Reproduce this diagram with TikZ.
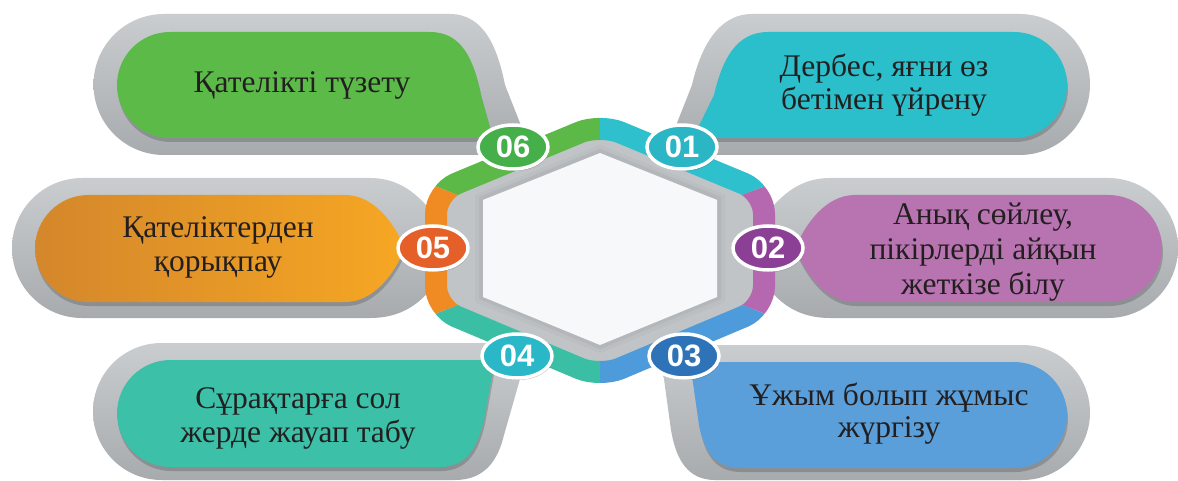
\documentclass[tikz,border=0pt]{standalone}
\usepackage{fontspec}
\setmainfont{Liberation Serif}
\newfontfamily\badgefont{Liberation Sans}
\usetikzlibrary{shapes.geometric,shadows}
\definecolor{ctext}{HTML}{231F20}
\definecolor{graytop}{HTML}{CACDCF}
\definecolor{graybot}{HTML}{A7ABAE}
\definecolor{ringgray}{HTML}{C0C4C6}
\definecolor{hexsh1}{HTML}{BBBFC2}
\definecolor{hexsh2}{HTML}{B3B7BA}
\definecolor{hexwhite}{HTML}{F6F8F9}
\definecolor{boxgreen}{HTML}{5CBB48}
\definecolor{boxcyan}{HTML}{2ABFCA}
\definecolor{boxpurple}{HTML}{B873B1}
\definecolor{boxblue}{HTML}{5A9FDA}
\definecolor{boxteal}{HTML}{3CC0A8}
\definecolor{boxorangeL}{HTML}{D4872B}
\definecolor{boxorangeM}{HTML}{F2A224}
\definecolor{boxorangeR}{HTML}{F6A723}
\definecolor{rgreen}{HTML}{5DB947}
\definecolor{rcyan}{HTML}{2EC0CD}
\definecolor{rpurple}{HTML}{B568B0}
\definecolor{rblue}{HTML}{4E9BDB}
\definecolor{rteal}{HTML}{3BBFA4}
\definecolor{rorange}{HTML}{F08B23}
\definecolor{bgreen}{HTML}{45AF4A}
\definecolor{bcyan}{HTML}{2BB6C6}
\definecolor{bpurple}{HTML}{8B3F95}
\definecolor{bblue}{HTML}{2E73B8}
\definecolor{bcyan2}{HTML}{2AB7C8}
\definecolor{borange}{HTML}{E55F28}
\def\pGout{(520,155) -- (164,155) arc[start angle=270,end angle=90,radius=70.5pt] -- (450,14) .. controls (485,14) and (498,50) .. (505,85) -- (522,128) -- cycle}
\def\pGin{(493,138) -- (170,138) arc[start angle=270,end angle=90,radius=53pt] -- (430,32) .. controls (462,32) and (474,60) .. (481,95) -- cycle}
\def\pCout{(680,155) -- (1019.5,155) arc[start angle=-90,end angle=90,radius=70.5pt] -- (752,14) .. controls (717,14) and (700,50) .. (692,85) -- (675,128) -- cycle}
\def\pCin{(693,138) -- (1014,138) arc[start angle=-90,end angle=90,radius=53pt] -- (768,32) .. controls (736,32) and (722,60) .. (714,95) -- cycle}
\def\pOout{(370,318) -- (82,318) arc[start angle=270,end angle=90,radius=70pt] -- (370,178) .. controls (400,178) and (418,195) .. (432,212) -- (432,288) .. controls (418,305) and (400,318) .. (370,318) -- cycle}
\def\pOin{(345,302) -- (88.5,302) arc[start angle=270,end angle=90,radius=53.5pt] -- (345,195) .. controls (375,195) and (395,225) .. (405,248.5) .. controls (395,272) and (375,302) .. (345,302) -- cycle}
\def\pPout{(830,178) -- (1108,178) arc[start angle=90,end angle=-90,radius=70pt] -- (830,318) .. controls (800,318) and (782,305) .. (768,288) -- (768,212) .. controls (782,195) and (800,178) .. (830,178) -- cycle}
\def\pPin{(855,195) -- (1108.5,195) arc[start angle=90,end angle=-90,radius=53.5pt] -- (855,302) .. controls (825,302) and (805,272) .. (795,248.5) .. controls (805,225) and (825,195) .. (855,195) -- cycle}
\def\pTout{(522,343) -- (161.5,343) arc[start angle=90,end angle=270,radius=68.5pt] -- (455,480) .. controls (485,480) and (498,460) .. (504,435) -- (522,372) -- cycle}
\def\pTin{(495,360) -- (170.5,360) arc[start angle=90,end angle=270,radius=53.5pt] -- (440,467) .. controls (468,467) and (478,445) .. (484,420) -- cycle}
\def\pBout{(680,345) -- (1022.5,345) arc[start angle=90,end angle=-90,radius=67.5pt] -- (715,480) .. controls (688,480) and (676,460) .. (671,430) -- (663,372) -- cycle}
\def\pBin{(690,362) -- (1014,362) arc[start angle=90,end angle=-90,radius=53pt] -- (740,468) .. controls (714,468) and (704,450) .. (699,425) -- cycle}
\def\ringpath{(600,124) -- (764,192) -- (764,308) -- (600,377) -- (436,308) -- (436,192) -- cycle}
\begin{document}
\begin{tikzpicture}[x=1pt,y=-1pt,
  grayout/.style={top color=graytop, bottom color=graybot},
  inshadow/.style={fill=black, opacity=0.18, shift={(1,4)}},
  ringband/.style={line width=22pt, rounded corners=22pt, line join=round},
  txt/.style={font=\fontsize{31.5}{#1}\selectfont, text=ctext, align=center, anchor=base, inner sep=0pt},
  txt/.default=34,
  badge/.style={ellipse, draw=white, line width=3.5pt, minimum width=70pt, minimum height=44pt, inner sep=0pt, text=white,
    font=\badgefont\bfseries\fontsize{31}{31}\selectfont,
    drop shadow={shadow xshift=1pt, shadow yshift=-2pt, fill=black, opacity=0.25}},
]
\useasboundingbox (0,0) rectangle (1178,481);
\fill[white] (0,0) rectangle (1178,481);
% gray outer shapes of the boxes
\shade[grayout] \pGout;
\shade[grayout] \pCout;
\shade[grayout] \pOout;
\shade[grayout] \pPout;
\shade[grayout] \pTout;
\shade[grayout] \pBout;
% gray interior of the ring
\fill[ringgray, rounded corners=22pt] \ringpath;
% shadows of the coloured boxes
\fill[inshadow] \pGin;
\fill[inshadow] \pCin;
\fill[inshadow] \pOin;
\fill[inshadow] \pPin;
\fill[inshadow] \pTin;
\fill[inshadow] \pBin;
% coloured boxes
\fill[boxgreen] \pGin;
\fill[boxcyan] \pCin;
\shade[left color=boxorangeL, middle color=boxorangeM, right color=boxorangeR] \pOin;
\fill[boxpurple] \pPin;
\fill[boxteal] \pTin;
\fill[boxblue] \pBin;
% coloured ring segments
\begin{scope}\clip (600,250) -- (96,55) -- (600,-200) -- cycle; \draw[ringband, rgreen] \ringpath; \end{scope}
\begin{scope}\clip (600,250) -- (600,-200) -- (1104,55) -- cycle; \draw[ringband, rcyan] \ringpath; \end{scope}
\begin{scope}\clip (600,250) -- (1104,55) -- (1104,445) -- cycle; \draw[ringband, rpurple] \ringpath; \end{scope}
\begin{scope}\clip (600,250) -- (1104,445) -- (600,700) -- cycle; \draw[ringband, rblue] \ringpath; \end{scope}
\begin{scope}\clip (600,250) -- (600,700) -- (96,445) -- cycle; \draw[ringband, rteal] \ringpath; \end{scope}
\begin{scope}\clip (600,250) -- (96,445) -- (96,55) -- cycle; \draw[ringband, rorange] \ringpath; \end{scope}
% central white hexagon with soft shadow
\fill[hexsh1] (600,145) -- (725,195) -- (725,302) -- (600,353) -- (475,302) -- (475,195) -- cycle;
\fill[hexsh2] (600,149) -- (721,197) -- (721,299) -- (600,349) -- (479,299) -- (479,197) -- cycle;
\fill[hexwhite] (600,153) -- (717,200) -- (717,297) -- (600,345) -- (483,297) -- (483,200) -- cycle;
% texts (anchor base = last line)
\node[txt] (t06) at (302,93) {Қателікті түзету};
\node[txt=33] (t01) at (884,110) {Дербес, яғни өз\\бетімен үйрену};
\node[txt=35] (t05) at (218,272) {Қателіктерден\\қорықпау};
\node[txt=35] (t02) at (983,294) {Анық сөйлеу,\\пікірлерді айқын\\жеткізе білу};
\node[txt=34] (t04) at (298,442) {Сұрақтарға сол\\жерде жауап табу};
\node[txt=32] (t03) at (889,437) {Ұжым болып жұмыс\\жүргізу};
% badges
\node[badge, fill=bgreen] (b06) at (513,147) {06};
\node[badge, fill=bcyan] (b01) at (682,147) {01};
\node[badge, fill=bpurple] (b02) at (768,248) {02};
\node[badge, fill=bblue] (b03) at (684,356) {03};
\node[badge, fill=bcyan2] (b04) at (517,356) {04};
\node[badge, fill=borange] (b05) at (433,248) {05};
\end{tikzpicture}
\end{document}
